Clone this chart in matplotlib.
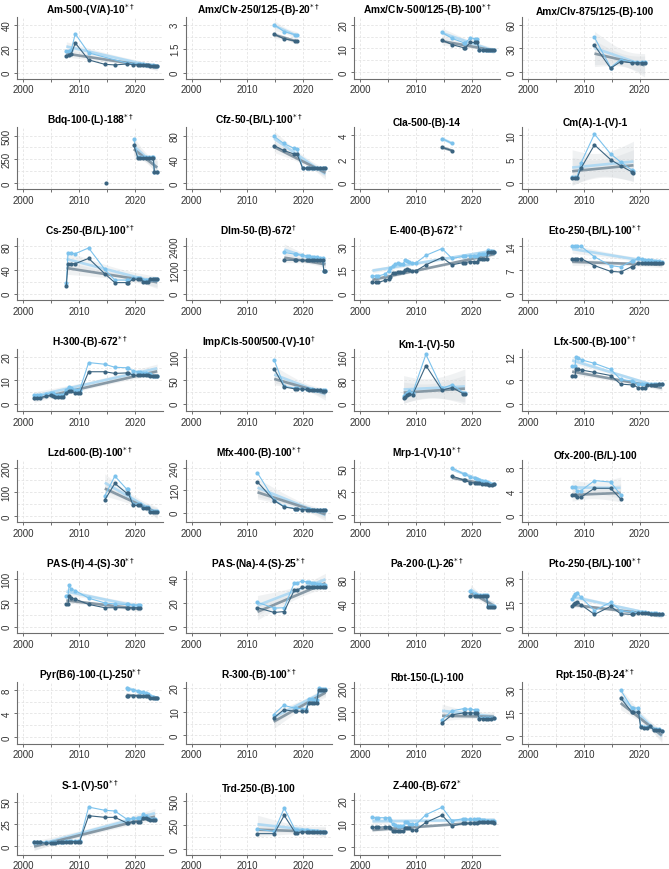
import numpy as np
import matplotlib
matplotlib.use('Agg')
import matplotlib.pyplot as plt

plt.rcParams['font.family'] = ['Liberation Sans', 'DejaVu Sans']

# ---- data (years, higher-price series, lower-price series) ----
am_x = [2007.7, 2008.2, 2008.6, 2009.3, 2011.7, 2014.6, 2016.4, 2018.6, 2019.7, 2020.5, 2021.0, 2021.5, 2022.0, 2022.4, 2022.8, 2023.2, 2023.6, 2024.0]
am_hi = [17.8, 18.3, 19.3, 32.4, 16.5, None, None, 8.0, 7.6, 7.3, 7.1, 6.9, 6.7, 6.5, 6.3, 6.2, 6.0, 6.0]
am_lo = [13.6, 14.4, 15.7, 24.8, 10.7, 7.0, 6.5, 7.3, 6.8, 6.6, 6.5, 6.3, 6.2, 6.1, 6.0, 5.9, 5.8, 5.8]

amx250_x = [2014.8, 2016.6, 2018.6, 2018.9]
amx250_hi = [3.0, 2.56, 2.37, 2.33]
amx250_lo = [2.41, 2.11, 1.99, 1.97]

amx500_x = [2014.7, 2016.5, 2018.6, 2018.8, 2019.8, 2020.6, 2021.0, 2021.4, 2022.0, 2022.5, 2023.0, 2023.3, 2023.7, 2024.0]
amx500_hi = [16.7, 14.2, 12.4, 12.2, 14.4, 14.1, 14.1, 9.4, 9.4, 9.4, 9.3, 9.3, 9.3, 9.3]
amx500_lo = [13.5, 11.6, 10.3, 10.1, 12.5, 12.5, 12.5, 9.3, 9.2, 9.2, 9.2, 9.2, 9.2, 9.2]

amx875_x = [2011.9, 2014.8, 2016.6, 2018.6, 2019.6, 2020.5, 2020.9]
amx875_hi = [44, 6, 16, 13, 13, 13, 13]
amx875_lo = [34, 5, 13.5, 12, 12, 12, 12]

bdq_x = [2019.8, 2020.5, 2021.0, 2021.5, 2022.0, 2022.5, 2023.0, 2023.3, 2023.5, 2024.0]
bdq_hi = [465, 278, 278, 278, 278, 278, 278, 278, 120, 120]
bdq_lo = [400, 268, 268, 268, 268, 268, 268, 268, 117, 117]
bdq_early_x = [2014.8]
bdq_early_lo = [0]

cfz_x = [2014.8, 2016.5, 2018.3, 2018.9, 2019.9, 2020.6, 2021.0, 2021.5, 2022.0, 2022.5, 2023.0, 2023.5, 2024.0]
cfz_hi = [78.4, 66.7, 58.7, 57.6, 26, 25.5, 25.5, 25.5, 25.5, 25.5, 25.5, 25.5, 25.5]
cfz_lo = [63, 55, 49, 49, 25, 25, 25, 25, 25, 25, 25, 25, 25]

cla_x = [2014.7, 2016.5]
cla_hi = [3.73, 3.33]
cla_lo = [2.99, 2.72]

cm_x = [2007.9, 2008.4, 2008.8, 2009.5, 2011.9, 2014.8, 2016.6, 2018.6, 2018.9]
cm_hi = [1.3, 1.3, 1.3, 4.2, 10.3, 6.1, 4.4, 2.7, 2.5]
cm_lo = [1.0, 1.0, 1.0, 3.1, 8.0, 4.9, 3.6, 2.3, 2.1]

cs_x = [2007.7, 2008.0, 2008.5, 2009.3, 2011.7, 2014.6, 2016.4, 2018.5, 2018.8, 2019.7, 2020.5, 2021.0, 2021.5, 2022.0, 2022.4, 2022.8, 2023.2, 2023.6, 2024.0]
cs_hi = [18.7, 68.3, 68.3, 67.7, 77.3, 41, 23, 23, 23, 26, 26, 26, 22.5, 22.5, 22.5, 25.5, 25.5, 25.5, 25.5]
cs_lo = [13.3, 50.7, 50.7, 50.7, 59.7, 33.6, 18.7, 18.7, 18.7, 24.5, 24.5, 24.5, 20.3, 20.3, 20.3, 24.5, 24.5, 24.5, 24.5]

dlm_x = [2016.6, 2018.5, 2018.8, 2019.8, 2020.6, 2021.0, 2021.5, 2022.0, 2022.5, 2023.0, 2023.5, 2023.7, 2024.0]
dlm_hi = [2096, 2000, 2000, 1950, 1920, 1900, 1880, 1860, 1840, 1820, 1800, 1170, 1170]
dlm_lo = [1700, 1700, 1700, 1700, 1700, 1700, 1700, 1700, 1700, 1700, 1700, 1170, 1170]

e_x = [2002.2, 2002.8, 2003.2, 2004.5, 2005.1, 2005.3, 2005.9, 2006.3, 2006.8, 2007.2, 2007.7, 2008.1, 2008.5, 2008.8, 2009.3, 2010.0,
       2011.8, 2014.7, 2016.5, 2018.5, 2018.8, 2019.7, 2020.5, 2021.0, 2021.3, 2021.8, 2022.2, 2022.7, 2022.9, 2023.4, 2023.8, 2024.1]
e_hi = [11.2, 11.2, 11.2, 12.4, 14.4, 16.0, 17.6, 18.9, 19.3, 18.9, 18.9, 21.3, 20.9, 20.3, 19.5, 19.5,
        24.3, 28.6, 22.3, 23.7, 23.7, 24.1, 24.1, 24.1, 24.9, 24.9, 24.9, 25.4, 27.4, 26.8, 26.6, 26.6]
e_lo = [7.1, 7.1, 7.1, 8.5, 9.3, 10.7, 12.8, 13.4, 13.6, 13.6, 13.6, 15.2, 15.4, 14.8, 14.4, 14.4,
        18.3, 22.9, 18.3, 19.7, 19.7, 20.3, 20.3, 20.3, 21.9, 21.9, 21.9, 21.9, 26.6, 26.6, 26.6, 26.6]

eto_x = [2007.9, 2008.4, 2008.8, 2009.5, 2011.9, 2014.8, 2016.6, 2018.6, 2018.9, 2019.8, 2020.5, 2020.9, 2021.5, 2022.0, 2022.5, 2023.0, 2023.5, 2024.0]
eto_hi = [14.2, 14.0, 14.0, 14.0, 10.9, 8.3, 7.9, 9.7, 9.7, 10.5, 10.3, 10.1, 10.0, 9.9, 9.8, 9.7, 9.6, 9.5]
eto_lo = [10.2, 10.2, 10.2, 10.4, 8.3, 6.6, 6.4, 8.0, 8.0, 9.1, 9.1, 9.1, 9.1, 9.1, 9.1, 9.1, 9.1, 9.1]

h_x = [2001.9, 2002.4, 2003.0, 2004.0, 2004.9, 2005.3, 2005.7, 2006.2, 2006.8, 2007.1, 2007.7, 2008.2, 2008.6, 2009.3, 2009.8, 2010.1,
       2011.7, 2014.6, 2016.4, 2018.5, 2018.8, 2019.7, 2020.5, 2021.0, 2021.5, 2022.0, 2022.4, 2022.8, 2023.2, 2023.6, 2024.0]
h_hi = [3.5, 3.5, 3.5, 4.0, 4.7, 4.5, 3.5, 3.5, 3.5, 3.5, 6.0, 7.0, 6.8, 6.0, 5.8, 5.8,
        17.5, 16.8, 15.5, 15.3, 15.0, 14.0, 13.7, 13.5, 13.2, 13.0, 12.8, 12.6, 12.0, 11.8, 11.8]
h_lo = [2.5, 2.5, 2.5, 3.2, 3.6, 3.3, 2.7, 2.7, 2.7, 2.7, 4.7, 5.3, 5.2, 4.5, 4.5, 4.5,
        13.6, 13.6, 12.9, 13.1, 13.1, 12.1, 12.1, 12.1, 12.1, 12.1, 12.1, 12.0, 11.6, 11.6, 11.6]

imp_x = [2014.8, 2016.6, 2018.6, 2018.9, 2019.8, 2020.6, 2021.0, 2021.5, 2022.0, 2022.5, 2023.0, 2023.5, 2024.0]
imp_hi = [92.7, 37, 33, 33, 32, 31.5, 31, 30.5, 30, 29.5, 29, 28.5, 28.5]
imp_lo = [74, 35.5, 31.3, 31.3, 30.7, 30.3, 30, 29.7, 29.3, 29, 28.5, 28, 28]

km_x = [2007.8, 2008.1, 2008.5, 2008.8, 2009.4, 2011.8, 2014.7, 2016.5, 2018.5, 2018.8]
km_hi = [25, 30, 35, 43, 35, 168, 52, 65, 38, 36]
km_lo = [18, 23, 29, 34, 29, 130, 46, 55, 34, 34]

lfx_x = [2007.9, 2008.4, 2008.6, 2009.0, 2009.6, 2011.9, 2014.8, 2016.6, 2018.6, 2018.9, 2019.8, 2020.5, 2020.9, 2021.4, 2022.0, 2022.5, 2023.0, 2023.5, 2024.0]
lfx_hi = [9.6, 9.6, 11.8, 11.7, 11.2, 10.3, 8.8, 6.2, 5.8, 5.6, 5.1, 5.0, 5.0, 5.0, 5.0, 5.0, 5.0, 5.0, 5.0]
lfx_lo = [7.1, 7.1, 8.8, 8.8, 8.6, 8.0, 7.2, 5.0, 4.8, 4.8, 4.0, 4.0, 4.0, 4.7, 4.8, 4.9, 4.9, 5.0, 5.0]

lzd_x = [2014.6, 2016.4, 2018.5, 2018.8, 2019.7, 2020.5, 2021.0, 2021.5, 2022.0, 2022.4, 2022.8, 2023.2, 2023.6, 2024.0]
lzd_hi = [84, 167, 113, 113, 48, 51, 51, 36, 36, 36, 19, 19, 19, 19]
lzd_lo = [67, 136, 96, 96, 44, 44, 44, 33, 33, 33, 16, 16, 16, 16]

mfx_x = [2011.8, 2014.8, 2016.6, 2018.6, 2018.9, 2019.8, 2020.6, 2021.0, 2021.5, 2022.0, 2022.5, 2023.0, 2023.5, 2024.0]
mfx_hi = [214, 69, 34, 22, 22, 19, 18, 18, 17, 17, 16, 16, 15, 15]
mfx_lo = [166, 65, 31, 21, 21, 17, 16, 16, 16, 15, 15, 14, 14, 14]

mrp_x = [2016.5, 2018.6, 2018.8, 2019.8, 2020.6, 2021.0, 2021.4, 2021.9, 2022.4, 2022.8, 2023.2, 2023.6, 2024.0]
mrp_hi = [50.3, 43.7, 43.7, 40.3, 39.3, 38.7, 37.3, 36.7, 36.0, 35.3, 34.3, 33.7, 33.3]
mrp_lo = [41.7, 37.3, 37.0, 34.7, 34.3, 34.3, 34.0, 33.7, 33.3, 33.0, 32.0, 32.0, 33.7]

ofx_x = [2007.9, 2008.4, 2008.8, 2009.5, 2011.9, 2014.8, 2016.6]
ofx_hi = [4.8, 4.8, 4.1, 4.2, 5.9, 5.65, 3.5]
ofx_lo = [3.5, 3.5, 3.1, 3.1, 4.6, 4.6, 2.8]

pash_x = [2007.7, 2008.0, 2008.2, 2008.5, 2009.3, 2011.7, 2014.6, 2016.4, 2018.5, 2018.8, 2019.7, 2020.5, 2021.0]
pash_hi = [65, 65, 87, 79, 76, 60, 50, 48, 47, 47, 46, 46, 46]
pash_lo = [48, 48, 65, 60, 58, 47, 40, 40, 40, 40, 40, 40, 40]

pasna_x = [2011.8, 2014.8, 2016.6, 2018.4, 2018.9, 2019.8, 2020.6, 2021.0, 2021.5, 2022.0, 2022.5, 2023.0, 2023.5, 2024.0]
pasna_hi = [20.5, 15.7, 16, 36.8, 36.8, 38.4, 37.6, 37.3, 36.8, 36.4, 36.0, 35.6, 35.2, 35.0]
pasna_lo = [16, 12, 12.8, 30.7, 30.7, 33, 33, 33, 33, 33, 33, 33, 33, 33]

pa_x = [2019.8, 2020.6, 2021.0, 2021.5, 2022.0, 2022.4, 2022.7, 2022.9, 2023.3, 2023.7, 2024.0]
pa_hi = [60, 55, 54, 54, 53.5, 53.5, 53, 35, 35, 35, 35]
pa_lo = [52, 52, 52, 52, 52, 52, 52, 34, 34, 34, 34]

pto_x = [2007.9, 2008.3, 2008.5, 2008.8, 2009.5, 2011.9, 2014.8, 2016.6, 2018.6, 2018.9, 2019.8, 2020.5, 2021.0, 2021.5, 2022.0, 2022.5, 2023.0, 2023.5, 2024.0]
pto_hi = [17.6, 19.6, 20.8, 21.6, 18.6, 10.4, 15.6, 10.4, 9.4, 9.0, 9.6, 9.4, 9.2, 9.0, 9.0, 8.8, 8.6, 8.4, 8.4]
pto_lo = [13, 14.4, 15.4, 16, 14, 8, 13, 8.4, 8, 8, 8.8, 8.7, 8.6, 8.6, 8.5, 8.4, 8.3, 8.2, 8.2]

pyr_x = [2018.5, 2018.8, 2019.7, 2020.5, 2021.0, 2021.5, 2022.0, 2022.4, 2022.8, 2023.2, 2023.6, 2024.0]
pyr_hi = [8.27, 8.2, 8.0, 7.84, 7.7, 7.57, 7.4, 7.24, 7.0, 6.76, 6.65, 6.6]
pyr_lo = [7.03, 7.03, 7.03, 7.03, 7.03, 7.03, 7.03, 7.03, 6.6, 6.6, 6.6, 6.6]

r300_x = [2014.7, 2016.5, 2018.5, 2018.8, 2019.7, 2020.5, 2021.0, 2021.5, 2022.0, 2022.4, 2022.8, 2023.2, 2023.6, 2024.0]
r300_hi = [8.8, 12.7, 11.5, 11.5, 11.2, 11.2, 15.2, 15.2, 15.0, 15.0, 20.2, 19.8, 19.6, 19.5]
r300_lo = [7.3, 10.8, 10.2, 10.2, 10.2, 10.2, 13.8, 13.8, 13.8, 13.8, 19.3, 19.3, 19.3, 19.3]

rbt_x = [2014.7, 2016.5, 2018.6, 2018.8, 2019.8, 2020.6, 2021.0, 2021.4, 2022.0, 2022.5, 2023.0, 2023.5, 2024.0]
rbt_hi = [67, 104, 113, 111, 111, 108, 108, 73, 72, 72, 72, 72, 75]
rbt_lo = [53, 87, 95, 95, 95, 95, 95, 71, 71, 71, 71, 71, 73]

rpt_x = [2016.6, 2018.6, 2018.9, 2019.8, 2020.2, 2020.8, 2021.4, 2021.9, 2022.5, 2023.0, 2023.5, 2024.0]
rpt_hi = [29.6, 18, 18, 18, 6.1, 5.7, 5.7, 6.5, 4.3, 4.3, 4.3, 3.5]
rpt_lo = [24.5, 15.3, 15.3, 15.3, 5.5, 5.3, 5.3, 6.1, 4.0, 4.0, 4.0, 3.3]

s1_x = [2001.9, 2002.4, 2003.0, 2004.0, 2004.9, 2005.3, 2005.7, 2006.2, 2006.8, 2007.1, 2007.7, 2008.2, 2008.6, 2009.3, 2009.8, 2010.1,
        2011.7, 2014.6, 2016.4, 2018.5, 2018.8, 2019.7, 2020.5, 2021.0, 2021.5, 2022.0, 2022.4, 2022.8, 2023.2, 2023.6]
s1_hi = [5.4, 5.4, 5.4, 4.3, 4.3, 4.3, 4.3, 5.0, 5.0, 5.0, 6.1, 6.1, 6.1, 6.1, 6.1, 6.1,
         44, 40.4, 39.6, 30.7, 30.7, 31.4, 31.4, 31.4, 35.7, 34, 32, 30.5, 30.5, 30.5]
s1_lo = [4.3, 4.3, 4.3, 3.6, 3.6, 3.6, 3.6, 4.3, 4.3, 4.3, 5.4, 5.4, 5.4, 5.4, 5.4, 5.4,
         34.3, 32.5, 32.5, 26.4, 26.4, 27.5, 27.5, 27.5, 32.1, 31.5, 30.4, 29, 29, 29]

trd_x = [2011.8, 2014.8, 2016.6, 2018.6, 2018.9, 2019.8, 2020.6, 2021.0, 2021.5, 2022.0, 2022.5, 2023.0, 2023.5, 2024.0]
trd_hi = [207, 183, 427, 193, 193, 200, 193, 190, 188, 186, 184, 182, 181, 180]
trd_lo = [160, 160, 350, 167, 167, 177, 177, 177, 177, 177, 177, 177, 177, 177]

z_x = e_x
z_hi = [12.8, 12.5, 12.5, 12.5, 12.5, 11.6, 9.6, 9.2, 8.8, 9.0, 8.8, 10.5, 10.5, 10.0, 9.6, 9.6,
        13.8, 17.0, 11.2, 12.1, 12.1, 11.8, 11.8, 11.8, 11.8, 11.6, 11.4, 11.2, 11.0, 11.0, 10.9, 10.9]
z_lo = [8.4, 8.4, 8.4, 8.6, 8.6, 8.3, 6.6, 6.6, 6.6, 6.6, 6.6, 7.9, 7.9, 7.9, 7.2, 7.2,
        10.5, 13.6, 8.9, 10.1, 10.1, 10.1, 10.1, 10.1, 10.7, 10.7, 10.7, 10.7, 10.7, 10.6, 10.5, 10.4]

SUP_BOTH = r'$^{*\dagger}$'
SUP_DAG = r'$^{\dagger}$'
SUP_STAR = r'$^{*}$'

# title, superscript, x, hi, lo, top tick, (lower, upper) limit as fraction of top tick
panels = [
    ('Am-500-(V/A)-10', SUP_BOTH, am_x, am_hi, am_lo, 40, (-0.12, 1.17)),
    ('Amx/Clv-250/125-(B)-20', SUP_BOTH, amx250_x, amx250_hi, amx250_lo, 3, (-0.12, 1.17)),
    ('Amx/Clv-500/125-(B)-100', SUP_BOTH, amx500_x, amx500_hi, amx500_lo, 20, (-0.13, 1.17)),
    ('Amx/Clv-875/125-(B)-100', '', amx875_x, amx875_hi, amx875_lo, 60, (-0.13, 1.17)),
    ('Bdq-100-(L)-188', SUP_BOTH, bdq_x, bdq_hi, bdq_lo, 500, (-0.13, 1.17)),
    ('Cfz-50-(B/L)-100', SUP_BOTH, cfz_x, cfz_hi, cfz_lo, 80, (-0.13, 1.17)),
    ('Cla-500-(B)-14', '', cla_x, cla_hi, cla_lo, 4, (-0.14, 1.17)),
    ('Cm(A)-1-(V)-1', '', cm_x, cm_hi, cm_lo, 10, (-0.14, 1.17)),
    ('Cs-250-(B/L)-100', SUP_BOTH, cs_x, cs_hi, cs_lo, 80, (-0.14, 1.17)),
    ('Dlm-50-(B)-672', SUP_DAG, dlm_x, dlm_hi, dlm_lo, 2400, (-0.14, 1.17)),
    ('E-400-(B)-672', SUP_BOTH, e_x, e_hi, e_lo, 30, (-0.14, 1.17)),
    ('Eto-250-(B/L)-100', SUP_BOTH, eto_x, eto_hi, eto_lo, 14, (-0.14, 1.17)),
    ('H-300-(B)-672', SUP_BOTH, h_x, h_hi, h_lo, 20, (-0.16, 1.16)),
    ('Imp/Cls-500/500-(V)-10', SUP_DAG, imp_x, imp_hi, imp_lo, 100, (-0.16, 1.16)),
    ('Km-1-(V)-50', '', km_x, km_hi, km_lo, 160, (-0.16, 1.16)),
    ('Lfx-500-(B)-100', SUP_BOTH, lfx_x, lfx_hi, lfx_lo, 12, (-0.16, 1.16)),
    ('Lzd-600-(B)-100', SUP_BOTH, lzd_x, lzd_hi, lzd_lo, 200, (-0.13, 1.17)),
    ('Mfx-400-(B)-100', SUP_BOTH, mfx_x, mfx_hi, mfx_lo, 240, (-0.21, 1.18)),
    ('Mrp-1-(V)-10', SUP_BOTH, mrp_x, mrp_hi, mrp_lo, 50, (-0.14, 1.17)),
    ('Ofx-200-(B/L)-100', '', ofx_x, ofx_hi, ofx_lo, 8, (-0.14, 1.17)),
    ('PAS-(H)-4-(S)-30', SUP_BOTH, pash_x, pash_hi, pash_lo, 100, (-0.13, 1.17)),
    ('PAS-(Na)-4-(S)-25', SUP_BOTH, pasna_x, pasna_hi, pasna_lo, 40, (-0.13, 1.17)),
    ('Pa-200-(L)-26', SUP_BOTH, pa_x, pa_hi, pa_lo, 80, (-0.12, 1.17)),
    ('Pto-250-(B/L)-100', SUP_BOTH, pto_x, pto_hi, pto_lo, 30, (-0.12, 1.17)),
    ('Pyr(B6)-100-(L)-250', SUP_BOTH, pyr_x, pyr_hi, pyr_lo, 8, (-0.15, 1.17)),
    ('R-300-(B)-100', SUP_BOTH, r300_x, r300_hi, r300_lo, 20, (-0.18, 1.13)),
    ('Rbt-150-(L)-100', '', rbt_x, rbt_hi, rbt_lo, 200, (-0.18, 1.13)),
    ('Rpt-150-(B)-24', SUP_BOTH, rpt_x, rpt_hi, rpt_lo, 30, (-0.17, 1.16)),
    ('S-1-(V)-50', SUP_BOTH, s1_x, s1_hi, s1_lo, 50, (-0.19, 1.2)),
    ('Trd-250-(B)-100', '', trd_x, trd_hi, trd_lo, 500, (-0.12, 1.17)),
    ('Z-400-(B)-672', SUP_STAR, z_x, z_hi, z_lo, 20, (-0.17, 1.16)),
]

LIGHT = '#7cc2ec'
DARK = '#3b6480'
REG_LIGHT = '#acd8f3'
REG_DARK = '#7d909e'
BAND = '#d3d7db'
GRID = '#e4e4e4'
AXIS = '#6e6e6e'


def t975(df):
    # Cornish-Fisher approximation of the 97.5% t quantile
    z = 1.959964
    g1 = (z**3 + z) / 4
    g2 = (5 * z**5 + 16 * z**3 + 3 * z) / 96
    g3 = (3 * z**7 + 19 * z**5 + 17 * z**3 - 15 * z) / 384
    return z + g1 / df + g2 / df**2 + g3 / df**3


def draw_fit(ax, x, y, line_color):
    ok = ~np.isnan(y)
    x, y = x[ok], y[ok]
    n = len(x)
    if n < 2:
        return
    b, a = np.polyfit(x, y, 1)
    xs = np.linspace(x.min(), x.max(), 80)
    ys = a + b * xs
    if n > 2:
        resid = y - (a + b * x)
        s = np.sqrt(np.sum(resid**2) / (n - 2))
        sxx = np.sum((x - x.mean())**2)
        se = s * np.sqrt(1.0 / n + (xs - x.mean())**2 / sxx)
        t = t975(n - 2)
        ax.fill_between(xs, ys - t * se, ys + t * se, color=BAND, alpha=0.32,
                        linewidth=0, zorder=1)
    ax.plot(xs, ys, color=line_color, lw=1.9, alpha=0.9, zorder=2,
            solid_capstyle='butt')


def fmt(v):
    return str(int(v)) if float(v).is_integer() else f'{v:g}'


W, H = 669, 870
fig = plt.figure(figsize=(W / 100, H / 100), dpi=100)

col_left = [17.3, 185.6, 354.0, 522.0]
ax_w = 146.0
ax_h = 62.0
row_pitch = 110.9
first_bottom = 79.5

for i, (name, sup, xs, hi, lo, top, (flo, fhi)) in enumerate(panels):
    r, c = divmod(i, 4)
    bottom_px = first_bottom + row_pitch * r
    ax = fig.add_axes([col_left[c] / W, 1 - bottom_px / H, ax_w / W, ax_h / H])

    x = np.array(xs, dtype=float)
    yh = np.array([np.nan if v is None else v for v in hi], dtype=float)
    yl = np.array([np.nan if v is None else v for v in lo], dtype=float)

    draw_fit(ax, x, yh, REG_LIGHT)
    draw_fit(ax, x, yl, REG_DARK)

    mh = ~np.isnan(yh)
    ax.plot(x[mh], yh[mh], color=LIGHT, lw=0.8, marker='o', ms=3.0,
            markeredgewidth=0, zorder=3)
    ax.plot(x, yl, color=DARK, lw=0.8, marker='o', ms=3.0,
            markeredgewidth=0, zorder=4)
    if name.startswith('Bdq'):
        ax.plot(bdq_early_x, bdq_early_lo, color=DARK, marker='o', ms=3.0,
                markeredgewidth=0, linestyle='none', zorder=4)

    ax.set_xlim(1998.9, 2025.1)
    # keep the original tick-to-axis proportions while the panel is slightly shorter
    ax.set_ylim(flo * top, fhi * top)

    # grid
    for gx in [2000, 2005, 2010, 2015, 2020]:
        ax.axvline(gx, color=GRID, lw=0.6, ls=(0, (3, 2)), zorder=0)
    for gy in np.arange(0, 1.01, 0.25) * top:
        ax.axhline(gy, color=GRID, lw=0.6, ls=(0, (3, 2)), zorder=0)

    ax.set_xticks([2000, 2005, 2010, 2015, 2020])
    ax.set_xticklabels(['2000', '', '2010', '', '2020'])
    yt = [0, top / 2, top]
    ax.set_yticks(yt)
    ax.set_yticklabels([fmt(v) for v in yt], rotation=90, va='center')

    ax.tick_params(axis='both', length=2.5, width=0.7, color=AXIS,
                   labelsize=7, labelcolor='#333333', pad=1.5)
    for s in ['top', 'right']:
        ax.spines[s].set_visible(False)
    for s in ['left', 'bottom']:
        ax.spines[s].set_color(AXIS)
        ax.spines[s].set_linewidth(0.8)

    ax.set_title(name + sup, fontsize=7.3, fontweight='bold', pad=1.5)

fig.savefig('out.png', dpi=100, facecolor='white')
